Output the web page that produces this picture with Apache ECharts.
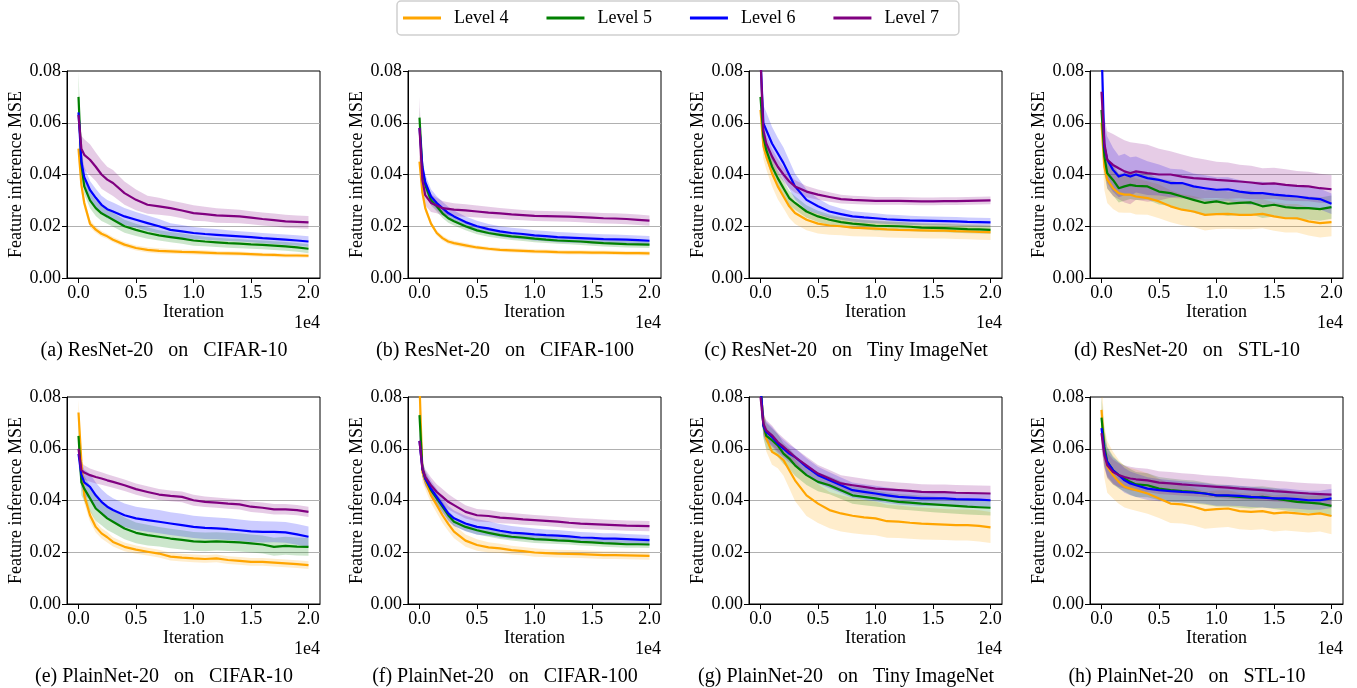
<!DOCTYPE html>
<html><head><meta charset="utf-8">
<script src="https://cdn.jsdelivr.net/npm/echarts@6.0.0/dist/echarts.min.js"></script>
<style>html,body{margin:0;padding:0;background:#fff;} #chart{width:1357px;height:688px;}</style>
</head><body><div id="chart"></div>
<script>
const ITER = [0,250,500,1000,1500,2000,2500,3000,4000,5000,6000,7000,8000,9000,10000,11000,12000,13000,14000,15000,16000,17000,18000,19000,20000];
const LEVELS = ['Level 4','Level 5','Level 6','Level 7'];
const X_TICKS = [0,5000,10000,15000,20000];
const CAPTIONS = ['(a) ResNet-20   on   CIFAR-10','(b) ResNet-20   on   CIFAR-100','(c) ResNet-20   on   Tiny ImageNet','(d) ResNet-20   on   STL-10',
                  '(e) PlainNet-20   on   CIFAR-10','(f) PlainNet-20   on   CIFAR-100','(g) PlainNet-20   on   Tiny ImageNet','(h) PlainNet-20   on   STL-10'];

// (a) ResNet-20 on CIFAR-10 : mean per level, then band half-width per level
const MEAN_A = [
 [0.050,0.036,0.029,0.021,0.0187,0.0171,0.0161,0.0148,0.0129,0.0116,0.0109,0.0105,0.0103,0.0101,0.0100,0.0098,0.0096,0.0095,0.0094,0.0092,0.0090,0.0089,0.0087,0.0087,0.0086],
 [0.070,0.044,0.0354,0.030,0.027,0.025,0.0238,0.0225,0.020,0.0186,0.0174,0.0165,0.0158,0.0152,0.0145,0.0141,0.0138,0.0135,0.0133,0.0130,0.0128,0.0125,0.0122,0.0118,0.0113],
 [0.064,0.045,0.039,0.034,0.031,0.0283,0.0266,0.0257,0.0238,0.0225,0.0212,0.0200,0.0186,0.0180,0.0174,0.0170,0.0167,0.0164,0.0161,0.0158,0.0154,0.0151,0.0148,0.0145,0.0141],
 [0.063,0.050,0.0476,0.0457,0.043,0.040,0.038,0.0367,0.0328,0.0302,0.0283,0.0277,0.027,0.0261,0.0251,0.0247,0.0242,0.0240,0.0238,0.0233,0.0228,0.0224,0.0219,0.0217,0.0215]];
const SPREAD_A = [
 [0.004,0.003,0.002,0.0015,0.0012,0.0012,0.001,0.001,0.001,0.001,0.001,0.001,0.0009,0.0009,0.0009,0.0009,0.0008,0.0008,0.0008,0.0008,0.0008,0.0008,0.0008,0.0008,0.0008],
 [0.010,0.004,0.003,0.003,0.003,0.003,0.0028,0.0027,0.0025,0.0024,0.0022,0.002,0.002,0.002,0.002,0.0018,0.0018,0.0018,0.0018,0.0017,0.0017,0.0017,0.0017,0.0017,0.0017],
 [0.004,0.004,0.004,0.0035,0.0035,0.0035,0.0035,0.0035,0.0033,0.003,0.003,0.0028,0.0026,0.0025,0.0023,0.0022,0.0022,0.0021,0.002,0.002,0.002,0.002,0.002,0.002,0.002],
 [0.004,0.005,0.006,0.006,0.0055,0.0055,0.005,0.005,0.0045,0.004,0.0035,0.0033,0.003,0.003,0.003,0.0028,0.0028,0.0027,0.0026,0.0025,0.0025,0.0025,0.0025,0.0025,0.0025]];

// (b) ResNet-20 on CIFAR-100
const MEAN_B = [
 [0.045,0.033,0.027,0.021,0.0174,0.0154,0.0141,0.0135,0.0126,0.0118,0.0113,0.0109,0.0107,0.0105,0.0103,0.0102,0.0100,0.0099,0.0099,0.0098,0.0098,0.0097,0.0096,0.0096,0.0095],
 [0.062,0.042,0.036,0.030,0.0277,0.025,0.0231,0.0219,0.020,0.0184,0.0174,0.0167,0.0161,0.0157,0.0152,0.0148,0.0145,0.0143,0.0141,0.0138,0.0135,0.0133,0.0131,0.0130,0.0129],
 [0.058,0.043,0.037,0.0315,0.029,0.027,0.0251,0.0238,0.0216,0.020,0.0189,0.018,0.0174,0.017,0.0165,0.0162,0.0158,0.0156,0.0154,0.0152,0.0150,0.0149,0.0148,0.0146,0.0144],
 [0.058,0.038,0.032,0.029,0.028,0.027,0.0267,0.0264,0.0261,0.0257,0.0253,0.025,0.0246,0.0243,0.024,0.0239,0.0238,0.0237,0.0235,0.0233,0.0231,0.0230,0.0228,0.0225,0.0222]];
const SPREAD_B = [
 [0.003,0.002,0.0015,0.001,0.001,0.001,0.001,0.0009,0.0009,0.0008,0.0008,0.0008,0.0008,0.0008,0.0008,0.0008,0.0008,0.0008,0.0008,0.0008,0.0008,0.0008,0.0008,0.0008,0.0008],
 [0.004,0.003,0.0025,0.002,0.002,0.0018,0.0017,0.0016,0.0015,0.0015,0.0015,0.0014,0.0014,0.0014,0.0014,0.0013,0.0013,0.0013,0.0013,0.0013,0.0013,0.0013,0.0013,0.0013,0.0013],
 [0.004,0.003,0.003,0.0028,0.0026,0.0025,0.0024,0.0023,0.0022,0.0021,0.002,0.002,0.002,0.002,0.002,0.002,0.002,0.002,0.0019,0.0019,0.0019,0.0019,0.0018,0.0018,0.0018],
 [0.012,0.004,0.004,0.0035,0.003,0.0028,0.0026,0.0025,0.0024,0.0023,0.0022,0.0021,0.0021,0.002,0.002,0.002,0.002,0.002,0.002,0.002,0.002,0.002,0.002,0.002,0.002]];

// (c) ResNet-20 on Tiny ImageNet
const MEAN_C = [
 [0.065,0.051,0.047,0.0405,0.0354,0.0315,0.0277,0.0251,0.0225,0.021,0.0203,0.020,0.0195,0.0193,0.0191,0.0188,0.0186,0.0185,0.0184,0.0183,0.0183,0.0181,0.018,0.0178,0.0177],
 [0.070,0.0547,0.0495,0.0431,0.0386,0.0347,0.0309,0.029,0.0257,0.0238,0.0225,0.0216,0.021,0.0206,0.0202,0.0201,0.020,0.0198,0.0195,0.0194,0.0193,0.0191,0.0189,0.0188,0.0186],
 [0.085,0.0598,0.0572,0.052,0.0482,0.0444,0.0399,0.0354,0.0302,0.0277,0.0257,0.0247,0.0238,0.0234,0.0231,0.0227,0.0225,0.0223,0.0222,0.0221,0.022,0.0219,0.0217,0.0216,0.0215],
 [0.085,0.057,0.052,0.047,0.043,0.040,0.0373,0.0354,0.0334,0.0322,0.0313,0.0305,0.0302,0.030,0.0298,0.0298,0.0298,0.0297,0.0296,0.0296,0.0297,0.0297,0.0298,0.0299,0.030]];
const SPREAD_C = [
 [0.006,0.005,0.005,0.005,0.005,0.0045,0.0045,0.0042,0.004,0.0038,0.0036,0.0035,0.0034,0.0033,0.0032,0.0031,0.003,0.003,0.003,0.003,0.003,0.003,0.003,0.003,0.003],
 [0.008,0.005,0.004,0.0035,0.003,0.003,0.0028,0.0026,0.0024,0.0022,0.002,0.002,0.0019,0.0018,0.0018,0.0017,0.0017,0.0016,0.0016,0.0016,0.0016,0.0016,0.0016,0.0016,0.0016],
 [0.006,0.007,0.007,0.0065,0.006,0.006,0.0055,0.005,0.004,0.003,0.0025,0.0022,0.002,0.002,0.0019,0.0018,0.0018,0.0018,0.0017,0.0017,0.0017,0.0017,0.0017,0.0017,0.0017],
 [0.004,0.004,0.0035,0.003,0.003,0.0028,0.0026,0.0025,0.0022,0.002,0.0018,0.0017,0.0016,0.0016,0.0015,0.0015,0.0015,0.0015,0.0015,0.0015,0.0015,0.0015,0.0015,0.0015,0.0015]];

// (d) ResNet-20 on STL-10
const MEAN_D = [
 [0.060,0.043,0.038,0.0347,0.0328,0.0322,0.0322,0.0315,0.0309,0.0296,0.0277,0.0264,0.0257,0.0244,0.0247,0.0248,0.0244,0.0244,0.0248,0.0238,0.0231,0.0231,0.0219,0.0212,0.0216],
 [0.065,0.047,0.0405,0.0379,0.0347,0.0354,0.036,0.0356,0.0354,0.0334,0.0328,0.0315,0.0302,0.029,0.0296,0.0287,0.029,0.0292,0.0277,0.0283,0.0274,0.027,0.027,0.0266,0.0274],
 [0.090,0.0508,0.0457,0.0418,0.0392,0.040,0.0392,0.040,0.0386,0.0379,0.0367,0.0367,0.0354,0.0347,0.0341,0.0343,0.0334,0.0328,0.0328,0.0322,0.0318,0.0315,0.0309,0.0305,0.0287],
 [0.072,0.052,0.0457,0.0437,0.0424,0.0412,0.0405,0.0412,0.0405,0.040,0.040,0.0392,0.0386,0.0383,0.0379,0.0376,0.0373,0.0369,0.0364,0.0366,0.036,0.0356,0.0354,0.0347,0.0343]];
const SPREAD_D = [
 [0.008,0.009,0.009,0.008,0.0075,0.007,0.007,0.007,0.0065,0.0065,0.0062,0.006,0.006,0.006,0.0058,0.0058,0.0056,0.0056,0.0056,0.0055,0.0055,0.0055,0.0055,0.0055,0.0055],
 [0.008,0.007,0.006,0.006,0.0055,0.0055,0.0055,0.0055,0.0052,0.005,0.005,0.005,0.005,0.0048,0.0048,0.0047,0.0046,0.0046,0.0045,0.0045,0.0045,0.0045,0.0045,0.0045,0.0045],
 [0.006,0.009,0.009,0.0085,0.008,0.008,0.0075,0.007,0.0065,0.006,0.0055,0.0052,0.005,0.005,0.0048,0.0046,0.0045,0.0045,0.0044,0.0043,0.0042,0.0042,0.0041,0.004,0.004],
 [0.006,0.010,0.011,0.012,0.012,0.012,0.012,0.011,0.011,0.010,0.009,0.0085,0.008,0.0075,0.007,0.007,0.0065,0.0065,0.006,0.006,0.006,0.0058,0.0057,0.0056,0.0055]];

// (e) PlainNet-20 on CIFAR-10
const MEAN_E = [
 [0.074,0.055,0.042,0.0343,0.0298,0.0273,0.0258,0.024,0.0221,0.021,0.0202,0.0195,0.0183,0.0179,0.0176,0.0174,0.0176,0.017,0.0167,0.0163,0.0163,0.016,0.0157,0.0154,0.015],
 [0.065,0.047,0.0446,0.0408,0.0369,0.035,0.0331,0.0318,0.0292,0.0275,0.0266,0.026,0.0253,0.0248,0.0242,0.024,0.0242,0.024,0.0238,0.0234,0.023,0.0221,0.0225,0.0222,0.0221],
 [0.058,0.050,0.047,0.0453,0.042,0.0395,0.0376,0.0363,0.0343,0.0331,0.0324,0.0318,0.0311,0.0305,0.0298,0.0294,0.0292,0.0289,0.0285,0.0281,0.0279,0.0279,0.0277,0.0269,0.026],
 [0.060,0.0517,0.0508,0.0498,0.0491,0.0485,0.0478,0.0472,0.0459,0.0444,0.0433,0.0423,0.0418,0.0414,0.0401,0.0395,0.0392,0.0388,0.0385,0.0376,0.0372,0.0366,0.0366,0.0363,0.0356]];
const SPREAD_E = [
 [0.005,0.004,0.003,0.0025,0.0022,0.002,0.002,0.0018,0.0017,0.0016,0.0015,0.0015,0.0015,0.0015,0.0015,0.0015,0.0015,0.0015,0.0015,0.0015,0.0015,0.0015,0.0015,0.0015,0.0015],
 [0.008,0.005,0.005,0.005,0.0048,0.0046,0.0045,0.0044,0.0042,0.004,0.004,0.0038,0.0038,0.0037,0.0036,0.0036,0.0035,0.0035,0.0035,0.0035,0.0035,0.0035,0.0035,0.0035,0.0035],
 [0.004,0.005,0.005,0.005,0.005,0.0048,0.0047,0.0046,0.0045,0.0045,0.0045,0.0045,0.0044,0.0044,0.0043,0.0043,0.0042,0.0042,0.0042,0.0041,0.0041,0.004,0.004,0.004,0.004],
 [0.004,0.003,0.0028,0.0026,0.0025,0.0024,0.0023,0.0023,0.0022,0.0022,0.0022,0.0021,0.0021,0.0021,0.0021,0.002,0.002,0.002,0.002,0.002,0.002,0.002,0.002,0.002,0.002]];

// (f) PlainNet-20 on CIFAR-100
const MEAN_F = [
 [0.085,0.051,0.0478,0.042,0.0382,0.0343,0.031,0.028,0.0245,0.0228,0.0219,0.0215,0.0208,0.0204,0.0199,0.0197,0.0195,0.0194,0.0193,0.0191,0.0189,0.0189,0.0188,0.0187,0.0186],
 [0.073,0.0523,0.0485,0.044,0.0408,0.0376,0.0343,0.0318,0.0298,0.0285,0.0275,0.0266,0.026,0.0256,0.0251,0.0249,0.0246,0.0244,0.024,0.0238,0.0235,0.0233,0.0231,0.0231,0.023],
 [0.063,0.0523,0.0485,0.0446,0.0414,0.0382,0.035,0.0331,0.0311,0.0298,0.0292,0.0283,0.0276,0.0273,0.0269,0.0266,0.0264,0.0261,0.0257,0.0256,0.0253,0.0253,0.0251,0.0249,0.0247],
 [0.063,0.0523,0.0491,0.0459,0.0433,0.0414,0.0395,0.0382,0.0356,0.0343,0.034,0.0334,0.0331,0.0327,0.0324,0.0321,0.0318,0.0314,0.0311,0.0309,0.0307,0.0305,0.0303,0.0302,0.0301]];
const SPREAD_F = [
 [0.012,0.004,0.0035,0.003,0.003,0.003,0.0028,0.0026,0.0024,0.0022,0.002,0.0018,0.0017,0.0016,0.0016,0.0015,0.0015,0.0015,0.0015,0.0015,0.0015,0.0015,0.0015,0.0015,0.0015],
 [0.004,0.003,0.0025,0.0022,0.002,0.002,0.0018,0.0017,0.0016,0.0016,0.0015,0.0015,0.0015,0.0015,0.0015,0.0015,0.0014,0.0014,0.0014,0.0014,0.0014,0.0014,0.0014,0.0014,0.0014],
 [0.004,0.003,0.003,0.003,0.003,0.003,0.003,0.003,0.003,0.003,0.0028,0.0026,0.0025,0.0024,0.0023,0.0022,0.0022,0.0021,0.0021,0.002,0.002,0.002,0.002,0.002,0.002],
 [0.004,0.003,0.003,0.003,0.003,0.003,0.003,0.0028,0.0026,0.0024,0.0023,0.0022,0.0021,0.0021,0.002,0.002,0.002,0.002,0.002,0.002,0.002,0.002,0.002,0.002,0.002]];

// (g) PlainNet-20 on Tiny ImageNet
const MEAN_G = [
 [0.085,0.070,0.064,0.0588,0.0575,0.0556,0.0517,0.0478,0.042,0.0388,0.0363,0.035,0.0341,0.0335,0.0331,0.032,0.0318,0.0314,0.0311,0.0309,0.0307,0.0305,0.0305,0.0302,0.0296],
 [0.085,0.069,0.065,0.0633,0.0613,0.0581,0.0562,0.0536,0.0498,0.0472,0.0459,0.044,0.042,0.0414,0.0408,0.0401,0.0395,0.0392,0.0388,0.0385,0.0382,0.0379,0.0376,0.0374,0.0372],
 [0.085,0.069,0.0665,0.0646,0.062,0.060,0.0581,0.0568,0.053,0.0498,0.0478,0.0459,0.044,0.0433,0.0427,0.042,0.0414,0.0411,0.0408,0.0408,0.0408,0.0405,0.0404,0.0403,0.0401],
 [0.080,0.0697,0.0671,0.0652,0.0626,0.0607,0.0588,0.0568,0.0536,0.0504,0.0485,0.0466,0.0459,0.0453,0.0446,0.0443,0.044,0.0437,0.0433,0.0432,0.0432,0.043,0.0429,0.0428,0.0427]];
const SPREAD_G = [
 [0.006,0.005,0.005,0.005,0.005,0.006,0.007,0.008,0.008,0.0075,0.007,0.007,0.0068,0.0066,0.0065,0.0064,0.0063,0.0062,0.0062,0.0061,0.006,0.006,0.006,0.006,0.006],
 [0.006,0.005,0.005,0.0045,0.0045,0.004,0.004,0.004,0.0038,0.0036,0.0035,0.0034,0.0033,0.0032,0.0031,0.003,0.003,0.003,0.003,0.003,0.003,0.003,0.003,0.003,0.003],
 [0.005,0.004,0.004,0.0038,0.0036,0.0035,0.0034,0.0034,0.0033,0.0032,0.0031,0.003,0.003,0.003,0.003,0.003,0.0029,0.0029,0.0029,0.0028,0.0028,0.0028,0.0028,0.0028,0.0028],
 [0.005,0.004,0.004,0.0038,0.0036,0.0035,0.0034,0.0034,0.0033,0.0033,0.0033,0.0032,0.0032,0.0031,0.0031,0.003,0.003,0.003,0.003,0.003,0.003,0.003,0.003,0.003,0.003]];

// (h) PlainNet-20 on STL-10
const MEAN_H = [
 [0.075,0.0588,0.053,0.0498,0.0472,0.0453,0.0446,0.044,0.0427,0.0408,0.0388,0.0385,0.0376,0.0363,0.0367,0.0369,0.0359,0.0356,0.0359,0.035,0.0354,0.035,0.0346,0.035,0.034],
 [0.072,0.0607,0.0549,0.0517,0.0498,0.0485,0.0472,0.0462,0.0459,0.0446,0.044,0.0436,0.0433,0.0427,0.042,0.0418,0.0414,0.0411,0.0414,0.0408,0.0401,0.0395,0.0392,0.0388,0.0379],
 [0.068,0.0588,0.0549,0.0517,0.0498,0.0478,0.0466,0.0459,0.0446,0.044,0.0436,0.0433,0.0431,0.0427,0.042,0.042,0.0418,0.0414,0.0411,0.0408,0.0408,0.0405,0.0401,0.0401,0.0408],
 [0.066,0.0575,0.0536,0.051,0.0498,0.0491,0.0485,0.0482,0.0478,0.0469,0.0466,0.0462,0.0459,0.0456,0.0453,0.045,0.0446,0.0443,0.044,0.0436,0.0433,0.043,0.0427,0.0425,0.0423]];
const SPREAD_H = [
 [0.012,0.010,0.010,0.009,0.0085,0.008,0.008,0.008,0.0078,0.0076,0.0075,0.0074,0.0073,0.0072,0.0072,0.0071,0.007,0.007,0.007,0.007,0.007,0.007,0.007,0.007,0.007],
 [0.008,0.007,0.006,0.0055,0.0052,0.005,0.005,0.0048,0.0046,0.0045,0.0045,0.0044,0.0044,0.0043,0.0043,0.0042,0.0042,0.0042,0.0041,0.0041,0.004,0.004,0.004,0.004,0.004],
 [0.006,0.006,0.0055,0.005,0.005,0.0048,0.0046,0.0045,0.0044,0.0043,0.0042,0.0041,0.004,0.004,0.004,0.004,0.0039,0.0039,0.0038,0.0038,0.0038,0.0037,0.0037,0.0037,0.0037],
 [0.006,0.005,0.005,0.0048,0.0046,0.0045,0.0045,0.0045,0.0045,0.0044,0.0044,0.0043,0.0043,0.0042,0.0042,0.0042,0.0041,0.0041,0.004,0.004,0.004,0.004,0.004,0.004,0.004]];

const PANELS = [
  {mean: MEAN_A, spread: SPREAD_A}, {mean: MEAN_B, spread: SPREAD_B}, {mean: MEAN_C, spread: SPREAD_C}, {mean: MEAN_D, spread: SPREAD_D},
  {mean: MEAN_E, spread: SPREAD_E}, {mean: MEAN_F, spread: SPREAD_F}, {mean: MEAN_G, spread: SPREAD_G}, {mean: MEAN_H, spread: SPREAD_H}];

// ---- styling / layout ----
const FONT = 'Liberation Serif';
const COLORS = ['#FFA500', '#008000', '#0000FF', '#800080'];
const BAND_COLORS = ['rgba(255,165,0,0.2)', 'rgba(0,128,0,0.2)', 'rgba(0,0,255,0.2)', 'rgba(128,0,128,0.2)'];
const COL_LEFT = [67, 408, 749, 1090];
const ROW_TOP = [71, 397];
const PW = 253, PH = 207;

const grids = [], xAxes = [], yAxes = [], series = [], graphics = [];
PANELS.forEach((panel, p) => {
  const c = p % 4, r = Math.floor(p / 4);
  const left = COL_LEFT[c], top = ROW_TOP[r];
  grids.push({left: left, top: top, width: PW, height: PH, show: true, borderColor: '#000', borderWidth: 1,
    backgroundColor: 'transparent', containLabel: false, outerBoundsMode: 'none'});
  xAxes.push({type: 'value', gridIndex: p, min: -1000, max: 21000,
    name: 'Iteration', nameLocation: 'middle', nameGap: 20,
    nameTextStyle: {fontFamily: FONT, fontSize: 18, color: '#000'},
    axisLine: {show: true, onZero: false, lineStyle: {color: '#000', width: 1}},
    axisTick: {show: true, inside: false, length: 5, customValues: X_TICKS, lineStyle: {color: '#000', width: 1}},
    axisLabel: {show: true, customValues: X_TICKS, formatter: v => (v / 10000).toFixed(1), fontFamily: FONT, fontSize: 18, color: '#000', margin: 6},
    splitLine: {show: false}});
  yAxes.push({type: 'value', gridIndex: p, min: 0, max: 0.08, interval: 0.02,
    name: 'Feature inference MSE', nameLocation: 'middle', nameRotate: 90, nameGap: 38,
    nameTextStyle: {fontFamily: FONT, fontSize: 18, color: '#000'},
    axisLine: {show: true, onZero: false, lineStyle: {color: '#000', width: 1}},
    axisTick: {show: true, inside: false, length: 5, lineStyle: {color: '#000', width: 1}},
    axisLabel: {show: true, formatter: v => v.toFixed(2), fontFamily: FONT, fontSize: 18, color: '#000', margin: 6},
    splitLine: {show: true, showMinLine: false, showMaxLine: false, lineStyle: {color: '#b0b0b0', width: 1}}});

  for (let l = 0; l < 4; l++) {
    const m = panel.mean[l], s = panel.spread[l];
    const pts = ITER.map((x, i) => [x, m[i] - s[i], m[i] + s[i]]);
    series.push({type: 'custom', name: 'band' + l, xAxisIndex: p, yAxisIndex: p, z: 2, silent: true, clip: true,
      animation: false, data: pts, encode: {x: 0, y: [1, 2]},
      renderItem: function (params, api) {
        if (params.dataIndex !== 0) return null;
        const upper = pts.map(d => api.coord([d[0], d[2]]));
        const lower = pts.map(d => api.coord([d[0], d[1]])).reverse();
        return {type: 'polygon', shape: {points: upper.concat(lower)}, style: {fill: BAND_COLORS[l], stroke: null}};
      }});
  }
  for (let l = 0; l < 4; l++) {
    const m = panel.mean[l];
    series.push({type: 'line', name: LEVELS[l], xAxisIndex: p, yAxisIndex: p, z: 3, silent: true, animation: false,
      data: ITER.map((x, i) => [x, m[i]]), symbol: 'none', showSymbol: false, color: COLORS[l], clip: true,
      lineStyle: {width: 2.2, color: COLORS[l], join: 'round'}});
  }
  graphics.push({type: 'text', x: left + PW, y: top + PH + 45, silent: true,
    style: {text: '1e4', fill: '#000', fontFamily: FONT, fontSize: 18, textAlign: 'right', textVerticalAlign: 'middle'}});
  graphics.push({type: 'text', x: left + PW / 2 - 29.5, y: top + PH + 73, silent: true,
    style: {text: CAPTIONS[p], fill: '#000', fontFamily: FONT, fontSize: 20, textAlign: 'center', textVerticalAlign: 'middle'}});
});

const chart = echarts.init(document.getElementById('chart'), null, {renderer: 'canvas'});
chart.setOption({
  backgroundColor: '#fff',
  animation: false,
  grid: grids, xAxis: xAxes, yAxis: yAxes, series: series,
  legend: {data: LEVELS, left: 397, top: 1, orient: 'horizontal', icon: 'rect', itemWidth: 38, itemHeight: 3, itemGap: 38,
    padding: [8, 20, 8, 6], borderColor: '#cfcfcf', borderWidth: 1.5, borderRadius: 4, backgroundColor: '#fff',
    selectedMode: false, formatter: '{t|{name}}',
    textStyle: {color: '#000', fontFamily: FONT, fontSize: 18,
      rich: {t: {padding: [0, 0, 0, 8], fontFamily: FONT, fontSize: 18, color: '#000'}}}},
  graphic: graphics
});
</script></body></html>
